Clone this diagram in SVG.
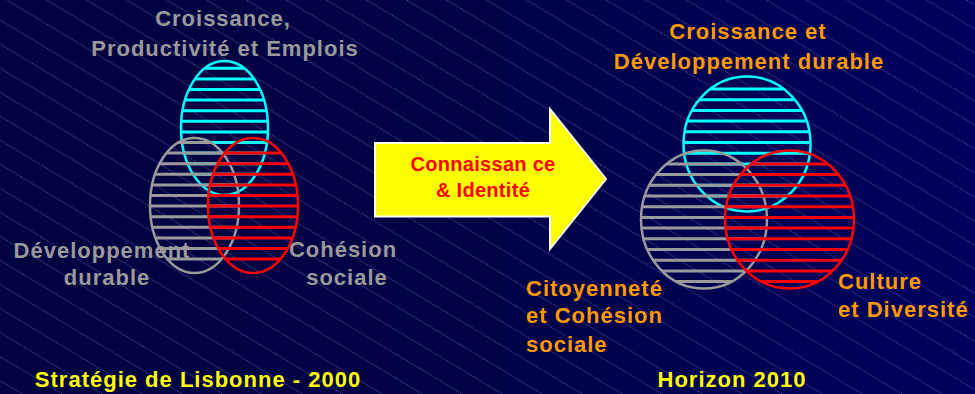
<svg xmlns="http://www.w3.org/2000/svg" width="975" height="394" viewBox="0 0 975 394">
<defs>
<linearGradient id="bg" x1="0" y1="0" x2="1" y2="0">
<stop offset="0" stop-color="#020240"/>
<stop offset="0.5" stop-color="#010146"/>
<stop offset="1" stop-color="#00005E"/>
</linearGradient>
<pattern id="hatch" patternUnits="userSpaceOnUse" width="200" height="20.6" patternTransform="rotate(31)">
<line x1="0" y1="17.2" x2="200" y2="17.2" stroke="#6464a8" stroke-width="0.8" stroke-dasharray="1.2 1.2"/>
</pattern>
<clipPath id="cL1"><ellipse cx="224.5" cy="128" rx="43.5" ry="67"/></clipPath>
<clipPath id="cL2"><ellipse cx="194.5" cy="205.5" rx="44.5" ry="67.5"/></clipPath>
<clipPath id="cL3"><ellipse cx="253" cy="205.5" rx="45" ry="67.5"/></clipPath>
<clipPath id="cR1"><ellipse cx="747" cy="144" rx="63.5" ry="67.5"/></clipPath>
<clipPath id="cR2"><ellipse cx="704" cy="219.5" rx="63" ry="69"/></clipPath>
<clipPath id="cR3"><ellipse cx="789.5" cy="219.5" rx="64.5" ry="69"/></clipPath>
</defs>
<style>
.t{font-family:"Liberation Sans",Arial,sans-serif;font-weight:bold;font-size:22px;letter-spacing:1px}
.g{fill:#9a9a9a}
.o{fill:#FF9900}
.y{fill:#FFFF00}
.cy{stroke:#00FFFF}
.gr{stroke:#9a9a9a}
.rd{stroke:#FF0000}
.stripe{stroke-width:3}
.ol{fill:none;stroke-width:2.5}
</style>
<rect width="975" height="394" fill="url(#bg)"/>
<rect width="975" height="394" fill="url(#hatch)"/>

<g id="left-croissance">
<g class="cy stripe" clip-path="url(#cL1)">
<path d="M170 68.3H280M170 78.9H280M170 89.5H280M170 100.1H280M170 110.7H280M170 121.3H280M170 131.9H280M170 142.5H280M170 153.1H280M170 163.7H280M170 174.3H280M170 184.9H280"/>
</g>
<ellipse class="ol cy" cx="224.5" cy="128" rx="43.5" ry="67"/>
</g>
<g id="left-developpement">
<g class="gr stripe" clip-path="url(#cL2)">
<path d="M140 142.5H250M140 153.1H250M140 163.7H250M140 174.3H250M140 184.9H250M140 195.5H250M140 206.1H250M140 216.7H250M140 227.3H250M140 237.9H250M140 248.5H250M140 259.1H250"/>
</g>
<ellipse class="ol gr" cx="194.5" cy="205.5" rx="44.5" ry="67.5"/>
</g>
<g id="left-cohesion">
<g class="rd stripe" clip-path="url(#cL3)">
<path d="M200 153.1H310M200 163.7H310M200 174.3H310M200 184.9H310M200 195.5H310M200 206.1H310M200 216.7H310M200 227.3H310M200 237.9H310M200 248.5H310M200 259.1H310"/>
</g>
<ellipse class="ol rd" cx="253" cy="205.5" rx="45" ry="67.5"/>
</g>

<g id="right-croissance">
<g class="cy stripe" clip-path="url(#cR1)">
<path d="M680 89H815M680 99.7H815M680 110.4H815M680 121.1H815M680 131.8H815M680 142.5H815M680 153.2H815M680 163.9H815M680 174.6H815M680 185.3H815M680 196H815"/>
</g>
<ellipse class="ol cy" cx="747" cy="144" rx="63.5" ry="67.5"/>
</g>
<g id="right-citoyennete">
<g class="gr stripe" clip-path="url(#cR2)">
<path d="M636 163.9H772M636 174.6H772M636 185.3H772M636 196H772M636 206.7H772M636 217.4H772M636 228.1H772M636 238.8H772M636 249.5H772M636 260.2H772M636 270.9H772M636 281.6H772"/>
</g>
<ellipse class="ol gr" cx="704" cy="219.5" rx="63" ry="69"/>
</g>
<g id="right-culture">
<g class="rd stripe" clip-path="url(#cR3)">
<path d="M720 163.9H860M720 174.6H860M720 185.3H860M720 196H860M720 206.7H860M720 217.4H860M720 228.1H860M720 238.8H860M720 249.5H860M720 260.2H860M720 270.9H860M720 281.6H860"/>
</g>
<ellipse class="ol rd" cx="789.5" cy="219.5" rx="64.5" ry="69"/>
</g>

<g id="connectors">
<g id="arrow">
<polygon points="375,143 550,143 550,109 606,179 550,249 550,216.5 375,216.5" fill="#FFFF00" stroke="#FFFFFF" stroke-width="2"/>
<text class="t" x="483" y="171" text-anchor="middle" fill="#FF0000" style="font-size:20px;letter-spacing:0.3px">Connaissan ce</text>
<text class="t" x="483" y="196.5" text-anchor="middle" fill="#FF0000" style="font-size:20px;letter-spacing:0.3px">&amp; Identité</text>
</g>
</g>

<g id="labels">
<text class="t g" x="223" y="26" text-anchor="middle">Croissance,</text>
<text class="t g" x="225" y="56" text-anchor="middle">Productivité et Emplois</text>
<text class="t g" x="102" y="258" text-anchor="middle">Développement</text>
<text class="t g" x="107" y="285" text-anchor="middle">durable</text>
<text class="t g" x="343" y="257" text-anchor="middle">Cohésion</text>
<text class="t g" x="347" y="285" text-anchor="middle">sociale</text>
<text class="t o" x="748" y="39" text-anchor="middle">Croissance et</text>
<text class="t o" x="749" y="69" text-anchor="middle">Développement durable</text>
<text class="t o" x="526" y="296">Citoyenneté</text>
<text class="t o" x="526" y="323">et Cohésion</text>
<text class="t o" x="526" y="352">sociale</text>
<text class="t o" x="838" y="289">Culture</text>
<text class="t o" x="838" y="317">et Diversité</text>
<text class="t y" x="198" y="387" text-anchor="middle">Stratégie de Lisbonne - 2000</text>
<text class="t y" x="732" y="387" text-anchor="middle">Horizon 2010</text>
</g>
</svg>
